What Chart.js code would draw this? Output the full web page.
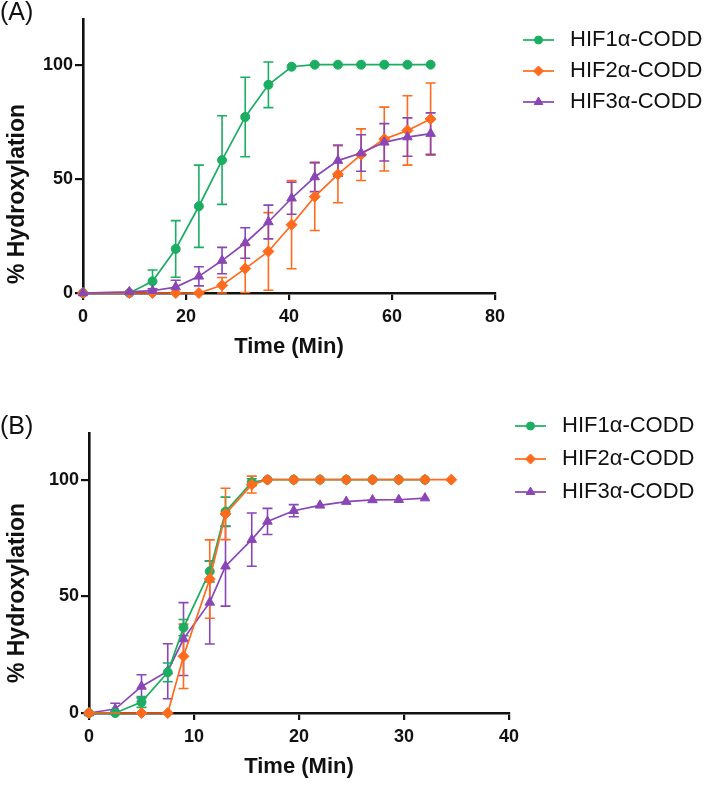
<!DOCTYPE html>
<html>
<head>
<meta charset="utf-8">
<script src="https://cdn.jsdelivr.net/npm/chart.js@4.4.0/dist/chart.umd.min.js"></script>
<style>
  body { margin: 0; background: #fff; }
  canvas { position: absolute; left: 0; }
</style>
</head>
<body>
<canvas id="chartA" width="709" height="365" style="top:0px"></canvas>
<canvas id="chartB" width="709" height="420" style="top:365px"></canvas>
<script>
// ---- panel A data (time in min, % hydroxylation, error = SD) ----
const timeA = [0, 9, 13.5, 18, 22.5, 27, 31.5, 36, 40.5, 45, 49.5, 54, 58.5, 63, 67.5];
const hif1A = [0, 0, 5.1, 19.3, 38, 58.2, 77.1, 91.2, 99.1, 100, 100, 100, 100, 100, 100];
const hif1AErr = [0, 0, 5, 12.4, 18, 19.4, 17.4, 10, 0, 0, 0, 0, 0, 0, 0];
const hif2A = [0, 0, 0, 0, 0, 3.4, 10.7, 18.2, 29.9, 42.2, 52, 60.6, 67.4, 71.2, 76.2];
const hif2AErr = [0, 0, 0, 0, 0, 3.4, 10.5, 17, 19.3, 14.8, 12.5, 11.3, 14, 15.2, 15.8];
const hif3A = [0, 0.5, 1, 2.6, 7.3, 14.2, 21.9, 31.1, 41.5, 50.8, 58, 61.3, 66, 68.3, 69.8];
const hif3AErr = [0, 0, 0.8, 3, 4.2, 5.8, 6.7, 7.4, 7, 6.4, 6.8, 8, 8.2, 8.4, 9.1];
const xTicksA = [0, 20, 40, 60, 80];

// ---- panel B data ----
const time1B = [0, 2.5, 5, 7.5, 9, 11.5, 13, 15.5, 17, 19.5, 22, 24.5, 27, 29.5, 32];
const hif1B = [0, 0, 4.7, 17.4, 36.6, 60.7, 86.3, 98.9, 100, 100, 100, 100, 100, 100, 100];
const hif1BErr = [0, 0, 2.3, 4, 3.5, 4.5, 6.2, 1.5, 0, 0, 0, 0, 0, 0, 0];
const time2B = [0, 5, 7.5, 9, 11.5, 13, 15.5, 17, 19.5, 22, 24.5, 27, 29.5, 32, 34.5];
const hif2B = [0, 0, 0, 24.3, 57.4, 85.3, 97.9, 100, 100, 100, 100, 100, 100, 100, 100];
const hif2BErr = [0, 0, 0, 13.8, 16.8, 11, 3.6, 0, 0, 0, 0, 0, 0, 0, 0];
const time3B = [0, 2.5, 5, 7.5, 9, 11.5, 13, 15.5, 17, 19.5, 22, 24.5, 27, 29.5, 32];
const hif3B = [0, 1.7, 11.4, 17.9, 31.7, 47.4, 62.9, 74.3, 82.1, 86.7, 89, 90.6, 91.3, 91.4, 92.1];
const hif3BErr = [0, 2.5, 5, 11.8, 15.6, 17.8, 17.1, 11.4, 5.6, 2.6, 0, 0, 0, 0, 0];
const xTicksB = [0, 10, 20, 30, 40];

const yTicks = [0, 50, 100];
const labels = ['HIF1\u03b1-CODD', 'HIF2\u03b1-CODD', 'HIF3\u03b1-CODD'];

const GREEN = '#1bad62';
const ORANGE = '#ff6a1c';
const PURPLE = '#8a45b6';
const FONT = '"Liberation Sans", Arial, Helvetica, sans-serif';

function pts(xs, ys) {
  return xs.map((x, i) => ({ x: x, y: ys[i] }));
}

function series(label, xs, ys, errs, color, style, radius, order) {
  return {
    label: label,
    data: pts(xs, ys),
    errors: errs,
    showLine: true,
    borderColor: color,
    backgroundColor: color,
    borderWidth: 1.7,
    pointStyle: style,
    pointRadius: radius,
    pointBorderWidth: 1,
    clip: false,
    order: order
  };
}

// error bars drawn from the scales
const errorBars = {
  id: 'errorBars',
  beforeDatasetsDraw(chart) {
    const { ctx, scales: { x, y } } = chart;
    const metas = chart.getSortedVisibleDatasetMetas().slice().reverse();
    metas.forEach(meta => {
      const ds = chart.data.datasets[meta.index];
      if (!ds.errors) return;
      ctx.save();
      ctx.strokeStyle = ds.borderColor;
      ctx.lineWidth = 1.6;
      ds.data.forEach((p, j) => {
        const e = ds.errors[j];
        if (!e) return;
        const px = x.getPixelForValue(p.x);
        const top = y.getPixelForValue(p.y + e);
        const bot = y.getPixelForValue(Math.max(0, p.y - e));
        ctx.beginPath();
        ctx.moveTo(px, top); ctx.lineTo(px, bot);
        ctx.moveTo(px - 5, top); ctx.lineTo(px + 5, top);
        ctx.moveTo(px - 5, bot); ctx.lineTo(px + 5, bot);
        ctx.stroke();
      });
      ctx.restore();
    });
  }
};

// panel letter, y title and legend
const panelDecor = {
  id: 'panelDecor',
  afterDraw(chart, args, opts) {
    const ctx = chart.ctx;
    ctx.save();
    ctx.fillStyle = '#111';
    ctx.textBaseline = 'middle';
    ctx.textAlign = 'left';
    ctx.font = '25px ' + FONT;
    ctx.fillText(opts.panel, 0, opts.panelY);

    ctx.save();
    ctx.translate(opts.yTitleX, opts.yTitleY);
    ctx.rotate(-Math.PI / 2);
    ctx.textAlign = 'center';
    ctx.font = 'bold 23px ' + FONT;
    ctx.fillText('% Hydroxylation', 0, 0);
    ctx.restore();

    chart.data.datasets.forEach((ds, i) => {
      const yy = opts.legendY[i];
      const x0 = opts.legendX;
      ctx.strokeStyle = ds.borderColor;
      ctx.fillStyle = ds.backgroundColor;
      ctx.lineWidth = 1.7;
      ctx.beginPath();
      ctx.moveTo(x0, yy); ctx.lineTo(x0 + 31, yy);
      ctx.stroke();
      ctx.lineWidth = 1;
      Chart.helpers.drawPoint(ctx, {
        pointStyle: ds.pointStyle, radius: ds.pointRadius - 0.5, rotation: 0, borderWidth: 1
      }, x0 + 15.5, yy);
      ctx.fillStyle = '#111';
      ctx.font = '22px ' + FONT;
      ctx.fillText(ds.label, opts.textX, yy);
    });
    ctx.restore();
  }
};

function makeConfig(datasets, p) {
  return {
    type: 'scatter',
    data: { datasets: datasets },
    options: {
      responsive: false,
      animation: false,
      devicePixelRatio: 1,
      layout: { padding: { left: 0, top: p.top, right: p.right, bottom: 0 } },
      plugins: {
        legend: { display: false },
        tooltip: { enabled: false },
        panelDecor: p.decor
      },
      scales: {
        x: {
          type: 'linear',
          min: 0,
          max: p.xMax,
          afterFit(scale) { scale.height = p.xHeight; },
          afterBuildTicks(scale) { scale.ticks = p.xTicks.map(v => ({ value: v })); },
          border: { display: true, color: '#111', width: 2.6 },
          grid: { drawOnChartArea: false, drawTicks: true, tickLength: 7, color: '#111', lineWidth: 2.2 },
          ticks: { color: '#111', padding: 6, font: { family: FONT, size: 18, weight: 'bold' } },
          title: {
            display: true, text: 'Time (Min)', color: '#111',
            padding: { top: 0, bottom: 5 },
            font: { family: FONT, size: 22, weight: 'bold' }
          }
        },
        y: {
          type: 'linear',
          min: 0,
          max: 120,
          afterFit(scale) { scale.width = p.yWidth; },
          afterBuildTicks(scale) { scale.ticks = yTicks.map(v => ({ value: v })); },
          border: { display: true, color: '#111', width: 2.6 },
          grid: { drawOnChartArea: false, drawTicks: true, tickLength: 8, color: '#111', lineWidth: 2.2 },
          ticks: { color: '#111', padding: 2, font: { family: FONT, size: 18, weight: 'bold' } }
        }
      }
    },
    plugins: [errorBars, panelDecor]
  };
}

const datasetsA = [
  series(labels[0], timeA, hif1A, hif1AErr, GREEN, 'circle', 4.5, 2),
  series(labels[1], timeA, hif2A, hif2AErr, ORANGE, 'rectRot', 5.5, 1),
  series(labels[2], timeA, hif3A, hif3AErr, PURPLE, 'triangle', 5.5, 0)
];

const datasetsB = [
  series(labels[0], time1B, hif1B, hif1BErr, GREEN, 'circle', 4.5, 1),
  series(labels[1], time2B, hif2B, hif2BErr, ORANGE, 'rectRot', 5.5, 0),
  series(labels[2], time3B, hif3B, hif3BErr, PURPLE, 'triangle', 5.5, 2)
];

new Chart(document.getElementById('chartA'), makeConfig(datasetsA, {
  top: 19, right: 214, xHeight: 72, yWidth: 83, xMax: 80, xTicks: xTicksA,
  decor: { panel: '(A)', panelY: 13, yTitleX: 18, yTitleY: 194,
           legendX: 523, textX: 570, legendY: [40, 71, 102] }
}));

new Chart(document.getElementById('chartB'), makeConfig(datasetsB, {
  top: 68, right: 200, xHeight: 72, yWidth: 89, xMax: 40, xTicks: xTicksB,
  decor: { panel: '(B)', panelY: 62, yTitleX: 18, yTitleY: 228,
           legendX: 515, textX: 562, legendY: [61, 94, 127] }
}));
</script>
</body>
</html>
